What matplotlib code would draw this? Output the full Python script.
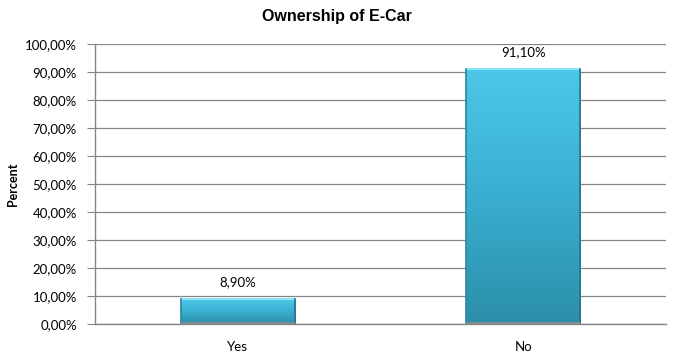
import matplotlib
matplotlib.use("Agg")
import matplotlib.pyplot as plt
import numpy as np
from matplotlib.colors import LinearSegmentedColormap

categories = ["Yes", "No"]
values = [8.90, 91.10]
yticks = [0, 10, 20, 30, 40, 50, 60, 70, 80, 90, 100]

def fmt(v):
    return f"{v:.2f}".replace(".", ",") + "%"

fig = plt.figure(figsize=(6.74, 3.61), dpi=100)
ax = fig.add_axes([95/674, 37/361, 571/674, 280/361])

lab_font = "Lato"
x = np.arange(len(categories))
bars = ax.bar(x, values, width=0.4, color="#3FB8DA", edgecolor="none", zorder=3)

cmap = LinearSegmentedColormap.from_list("g", ["#2C8FA9", "#3AAED0", "#4CC8EA"])
grad = np.linspace(0, 1, 256).reshape(-1, 1)
for b in bars:
    x0, y0 = b.get_x(), b.get_y()
    w, h = b.get_width(), b.get_height()
    im = ax.imshow(grad, extent=[x0, x0 + w, y0, y0 + h], origin="lower",
                   cmap=cmap, aspect="auto", zorder=4, interpolation="bicubic")
    im.set_clip_path(b)
    ax.plot([x0, x0 + w], [y0 + h, y0 + h], color="#8FE3F7", lw=1.5, zorder=5, solid_capstyle="butt")
    ax.plot([x0, x0], [y0, y0 + h], color="#2A86A0", lw=1.2, zorder=5)
    ax.plot([x0 + w, x0 + w], [y0, y0 + h], color="#24758C", lw=1.2, zorder=5)
    ax.plot([x0, x0 + w], [y0 + 0.3, y0 + 0.3], color="#7F8C90", lw=1.5, zorder=5, solid_capstyle="butt")
    ax.text(x0 + w / 2, y0 + h + 4.0, fmt(b.get_height()), ha="center", va="bottom",
            fontsize=9.5, family=lab_font, color="black", zorder=6)

ax.set_xlim(-0.5, 1.5)
ax.set_ylim(0, 100)
ax.set_yticks(yticks)
ax.set_yticklabels([fmt(v) for v in yticks], fontsize=9.5, family=lab_font)
ax.set_xticks(x)
ax.set_xticklabels(categories, fontsize=9.5, family=lab_font)
ax.tick_params(axis="y", length=6, color="#868686", pad=7)
ax.tick_params(axis="x", length=0, pad=12)
ax.yaxis.grid(True, color="#868686", lw=0.9, zorder=0)
ax.set_axisbelow(True)
for s in ["top", "right"]:
    ax.spines[s].set_visible(False)
for s in ["left", "bottom"]:
    ax.spines[s].set_color("#868686")
    ax.spines[s].set_linewidth(1.0)
ax.set_ylabel("Percent", fontsize=9, fontweight="bold", family=lab_font, labelpad=4)
fig.text(0.5, 1 - 16/361, "Ownership of E-Car", ha="center", va="center",
         fontsize=11.5, fontweight="bold", family="Liberation Sans")

fig.savefig("out.png", dpi=100)
